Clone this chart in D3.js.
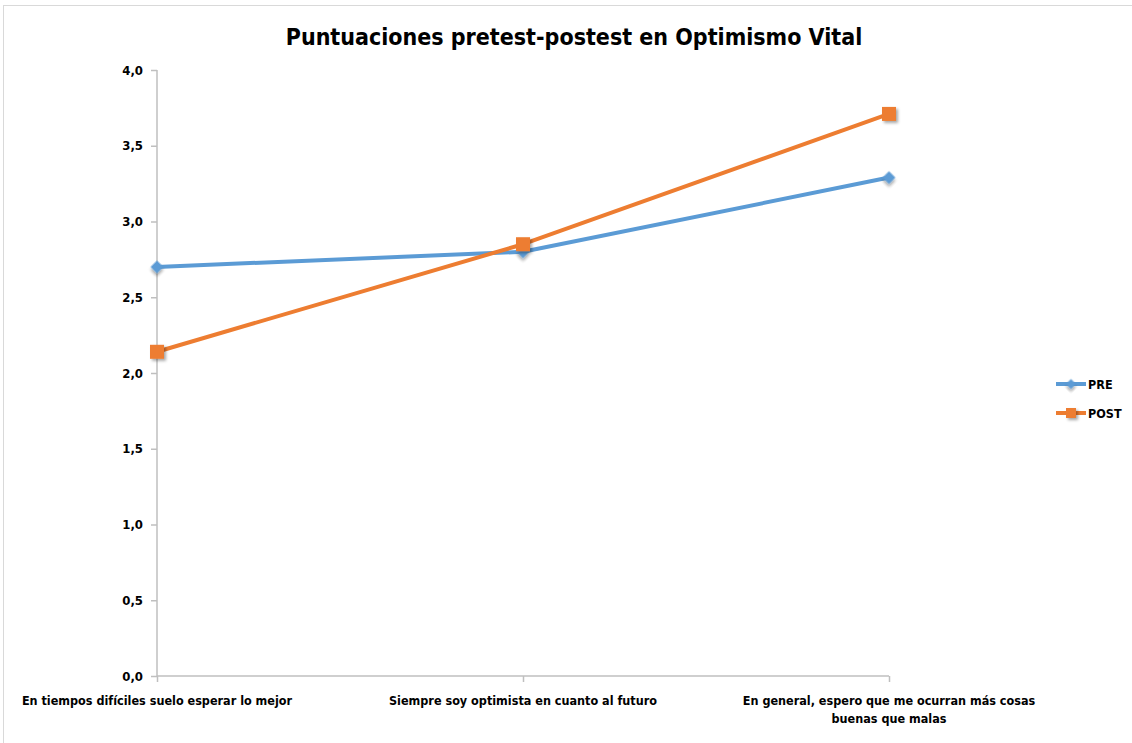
<!DOCTYPE html>
<html><head><meta charset="utf-8">
<script src="https://cdn.jsdelivr.net/npm/d3@7"></script>
<style>
body{margin:0;background:#fff;}
text{font-family:"Liberation Sans Narrow","DejaVu Sans Condensed","Arial Narrow",sans-serif;font-weight:bold;fill:#000;}
</style></head><body>
<svg id="c" width="1132" height="743"></svg>
<script>
const title = "Puntuaciones pretest-postest en Optimismo Vital";
const categories = [
  ["En tiempos difíciles suelo esperar lo mejor"],
  ["Siempre soy optimista  en cuanto al futuro"],
  ["En general, espero que me  ocurran más cosas", "buenas que malas"]
];
const seriesNames = ["PRE", "POST"];
const preValues = [2.70, 2.80, 3.29];
const postValues = [2.14, 2.85, 3.71];
const yTicks = [0, 0.5, 1.0, 1.5, 2.0, 2.5, 3.0, 3.5, 4.0];
const colors = ["#5b9bd5", "#ed7d31"];

const svg = d3.select("#c");
const defs = svg.append("defs");
const f = defs.append("filter").attr("id","sh").attr("x","-50%").attr("y","-50%").attr("width","200%").attr("height","200%");
f.append("feDropShadow").attr("dx",2).attr("dy",2).attr("stdDeviation",1.5).attr("flood-color","#000").attr("flood-opacity",0.35);

// chart border
svg.append("rect").attr("x",3.5).attr("y",5.5).attr("width",1140).attr("height",1140)
  .attr("fill","none").attr("stroke","#d9d9d9").attr("stroke-width",1);

const x = d3.scalePoint().domain(d3.range(categories.length)).range([157, 889]);
const y = d3.scaleLinear().domain([0, 4]).range([676, 70]);

svg.append("text").attr("x",574).attr("y",45).attr("text-anchor","middle")
  .style("font-size","23px").text(title);

// y axis
const ya = svg.append("g").attr("transform","translate(157,0)")
  .call(d3.axisLeft(y).tickValues(yTicks).tickSize(6).tickPadding(8)
    .tickFormat(d => d3.format(".1f")(d).replace(".", ",")));
ya.select(".domain").attr("stroke","#bfbfbf").attr("stroke-width",1.5).attr("d","M0,70V676");
ya.selectAll(".tick line").attr("stroke","#bfbfbf").attr("stroke-width",1.5);
ya.selectAll(".tick text").style("font-size","13px").attr("fill","#000");

// x axis
const xa = svg.append("g").attr("transform","translate(0,676)")
  .call(d3.axisBottom(x).tickSize(6).tickFormat(""));
xa.select(".domain").attr("stroke","#bfbfbf").attr("stroke-width",1.5).attr("d","M157,0H889");
xa.selectAll(".tick line").attr("stroke","#bfbfbf").attr("stroke-width",1.5);
categories.forEach((lines, i) => {
  const t = svg.append("text").attr("x", x(i)).attr("y", 705).attr("text-anchor","middle").style("font-size","12.5px");
  lines.forEach((l, j) => t.append("tspan").attr("x", x(i)).attr("dy", j ? 18 : 0).text(l));
});

const data = [preValues, postValues];
const line = d3.line().x((d,i) => x(i)).y(d => y(d));
data.forEach((vals, s) => {
  svg.append("path").datum(vals).attr("d", line).attr("fill","none")
    .attr("stroke", colors[s]).attr("stroke-width",4).attr("stroke-linejoin","round");
});
function marker(g, s, cx, cy, size) {
  if (s === 0) {
    g.append("path").attr("transform",`translate(${cx},${cy}) rotate(45)`)
      .attr("d", `M${-size/2},${-size/2}h${size}v${size}h${-size}z`).attr("fill", colors[0]).attr("filter","url(#sh)");
  } else {
    g.append("rect").attr("x", cx - size/2).attr("y", cy - size/2).attr("width", size).attr("height", size)
      .attr("fill", colors[1]).attr("filter","url(#sh)");
  }
}
const mg = svg.append("g");
data.forEach((vals, s) => vals.forEach((v, i) => marker(mg, s, x(i), y(v), s === 0 ? 9 : 14)));

// legend
seriesNames.forEach((n, s) => {
  const ly = 384 + s * 29;
  svg.append("line").attr("x1",1056).attr("x2",1086).attr("y1",ly).attr("y2",ly)
    .attr("stroke",colors[s]).attr("stroke-width",4);
  marker(svg, s, 1071, ly, s === 0 ? 7 : 10);
  svg.append("text").attr("x",1088).attr("y",ly+5).style("font-size","12.5px").text(n);
});
</script></body></html>
